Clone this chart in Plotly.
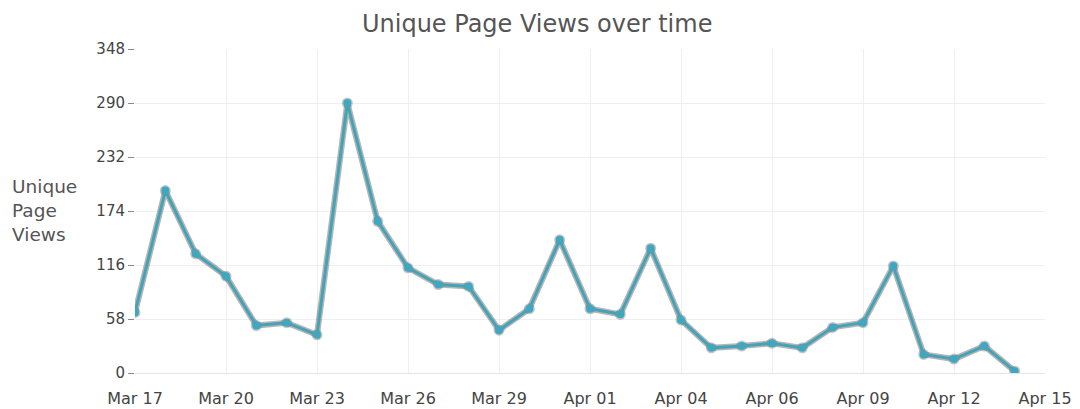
import plotly.graph_objects as go
import pandas as pd

dates = pd.date_range("2015-03-17", "2015-04-15", freq="D").strftime("%Y-%m-%d").tolist()
views = [65, 196, 128, 104, 51, 54, 41, 290, 163, 113, 95, 93, 46, 69,
         143, 69, 63, 134, 57, 27, 29, 32, 27, 49, 54, 115, 20, 15, 29, 2]

tick_dates = pd.date_range("2015-03-17", "2015-04-16", freq="3D").strftime("%Y-%m-%d").tolist()
tick_labels = ["Mar 17", "Mar 20", "Mar 23", "Mar 26", "Mar 29", "Apr 01",
               "Apr 04", "Apr 06", "Apr 09", "Apr 12", "Apr 15"]
y_ticks = [0, 58, 116, 174, 232, 290, 348]

fig = go.Figure()
# soft grey shadow under the line
fig.add_trace(go.Scatter(
    x=dates, y=views, mode="lines+markers",
    line=dict(color="rgba(90,90,90,0.45)", width=6),
    marker=dict(size=11, color="rgba(90,90,90,0.35)"),
    hoverinfo="skip", showlegend=False,
))
fig.add_trace(go.Scatter(
    x=dates, y=views, mode="lines+markers",
    line=dict(color="#45a3b8", width=3),
    marker=dict(size=8, color="#3fa8c0"),
    name="Unique Page Views", showlegend=False,
))

fig.update_layout(
    width=1080, height=409,
    margin=dict(l=127, r=43, t=41, b=44),
    paper_bgcolor="white", plot_bgcolor="white",
    title=dict(text="Unique Page Views over time", x=0.49, xanchor="center",
               xref="container", yref="container",
               y=0.962, yanchor="middle", automargin=False,
               font=dict(family="DejaVu Sans", size=24, color="#555555")),
    font=dict(family="DejaVu Sans", size=15, color="#444444"),
    xaxis=dict(
        range=[dates[0], "2015-04-16"],
        tickvals=tick_dates, ticktext=tick_labels,
        showgrid=True, gridcolor="#efefef", gridwidth=1,
        showline=False, zeroline=False, ticks="",
        tickfont=dict(family="DejaVu Sans", size=16, color="#444444"),
        ticklabelstandoff=14, automargin=False,
    ),
    yaxis=dict(
        range=[0, 348], tickvals=y_ticks,
        showgrid=True, gridcolor="#efefef", gridwidth=1,
        zeroline=True, zerolinecolor="#e4e4e4", zerolinewidth=1,
        ticks="outside", ticklen=6, tickcolor="#888888",
        tickfont=dict(family="DejaVu Sans", size=15, color="#444444"),
        automargin=False,
    ),
    annotations=[dict(
        text="Unique<br>Page<br>Views", xref="paper", yref="paper",
        x=-0.137, y=0.503, xanchor="left", yanchor="middle", align="left",
        showarrow=False, font=dict(family="DejaVu Sans", size=18.5, color="#555555"),
    )],
)

fig.write_html("out.html")
